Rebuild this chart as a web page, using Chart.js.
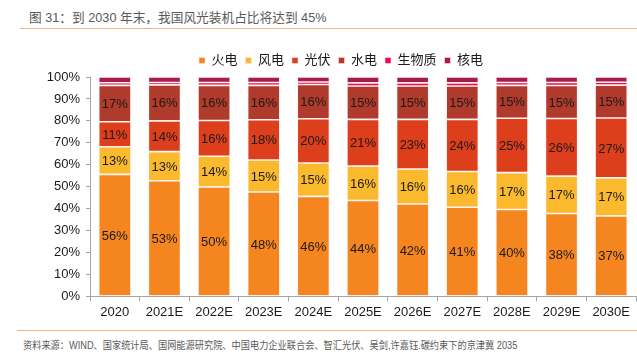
<!DOCTYPE html>
<html>
<head>
<meta charset="utf-8">
<script src="https://cdn.jsdelivr.net/npm/chart.js@4.4.1/dist/chart.umd.min.js"></script>
<style>
  html, body { margin: 0; padding: 0; background: #fff; }
  body { width: 637px; height: 364px; position: relative; overflow: hidden;
         font-family: "Liberation Sans", "Noto Sans CJK SC", sans-serif; }
  #title { position: absolute; left: 29px; top: 7px; font-size: 12.7px; color: #595959; white-space: nowrap; }
  #topline { position: absolute; left: 20px; right: 0; top: 28px; height: 1px; background: #F7B584; }
  #wrap { position: absolute; left: 0; top: 40px; width: 637px; height: 283px; }
  #botline { position: absolute; left: 17px; right: 0; top: 330px; height: 1px; background: #F7B584; }
  #source { position: absolute; left: 23px; top: 337px; font-size: 10px; color: #595959; white-space: nowrap;
            transform: scaleX(0.92); transform-origin: left center; }
</style>
</head>
<body>
<div id="title">图 31：到 2030 年末，我国风光装机占比将达到 45%</div>
<div id="topline"></div>
<div id="wrap"><canvas id="c" width="637" height="283"></canvas></div>
<div id="botline"></div>
<div id="source">资料来源：WIND、国家统计局、国网能源研究院、中国电力企业联合会、智汇光伏、吴剑,许嘉钰.碳约束下的京津冀 2035</div>

<script>
// ---- data (share of installed capacity, %) ----
const years = ['2020', '2021E', '2022E', '2023E', '2024E', '2025E', '2026E', '2027E', '2028E', '2029E', '2030E'];

const thermal = [55.6, 52.7, 49.9, 47.6, 45.6, 43.7, 42.1, 40.6, 39.6, 37.8, 36.7];
const wind    = [12.6, 13.3, 14.0, 14.6, 15.2, 15.7, 16.0, 16.3, 16.8, 17.0, 17.3];
const solar   = [11.4, 14.0, 16.3, 18.3, 20.2, 21.3, 22.6, 23.8, 24.8, 26.3, 27.3];
const hydro   = [16.6, 16.4, 16.0, 15.7, 15.6, 15.2, 15.2, 15.2, 15.0, 15.0, 15.0];
const biomass = [1.2, 1.1, 1.3, 1.3, 1.1, 1.4, 1.4, 1.4, 1.3, 1.4, 1.3];
const nuclear = [2.6, 2.5, 2.5, 2.5, 2.3, 2.7, 2.7, 2.7, 2.5, 2.5, 2.4];

const yTicks = [0, 10, 20, 30, 40, 50, 60, 70, 80, 90, 100];

const FONT = '"Liberation Sans", "Noto Sans CJK SC", sans-serif';

function ds(label, data, color) {
  return {
    label, data,
    backgroundColor: color,
    borderColor: 'rgba(255,230,230,0.7)',
    borderWidth: 0.8,
    borderSkipped: false,
    barPercentage: 0.65,
    categoryPercentage: 1.0
  };
}

// value labels inside the first four series
const segLabels = {
  id: 'segLabels',
  afterDatasetsDraw(chart) {
    const ctx = chart.ctx;
    ctx.save();
    ctx.font = '13px ' + FONT;
    ctx.fillStyle = '#1a1a1a';
    ctx.textAlign = 'center';
    ctx.textBaseline = 'middle';
    for (let d = 0; d < 4; d++) {
      const meta = chart.getDatasetMeta(d);
      meta.data.forEach((bar, i) => {
        const v = chart.data.datasets[d].data[i];
        ctx.fillText(Math.round(v) + '%', bar.x, (bar.y + bar.base) / 2 + 1);
      });
    }
    ctx.restore();
  }
};

// legend sits a little right of the canvas centre in the original
const legendShift = {
  id: 'legendShift',
  afterLayout(chart) {
    chart.legend.left += 23;
    chart.legend.right += 23;
  }
};

new Chart(document.getElementById('c'), {
  type: 'bar',
  data: {
    labels: years,
    datasets: [
      ds('火电', thermal, '#F5861F'),
      ds('风电', wind, '#FBBA2E'),
      ds('光伏', solar, '#DD3E1B'),
      ds('水电', hydro, '#B03A2C'),
      ds('生物质', biomass, '#EA0A50'),
      ds('核电', nuclear, '#A51E45')
    ]
  },
  plugins: [segLabels, legendShift],
  options: {
    responsive: false,
    animation: false,
    layout: { padding: { top: 6, right: 1, bottom: 0, left: 0 } },
    plugins: {
      tooltip: { enabled: false },
      legend: {
        position: 'top',
        labels: {
          boxWidth: 6,
          boxHeight: 6,
          padding: 8,
          color: '#1a1a1a',
          font: { size: 13, family: FONT }
        }
      }
    },
    scales: {
      x: {
        stacked: true,
        grid: { display: true, drawOnChartArea: false, offset: true, tickLength: 5, color: '#a6a6a6' },
        border: { color: '#a6a6a6' },
        ticks: { color: '#1a1a1a', font: { size: 13, family: FONT }, padding: 3, maxRotation: 0 }
      },
      y: {
        stacked: true,
        min: 0,
        max: 100,
        afterFit(scale) { scale.width = 90; },
        afterBuildTicks(scale) { scale.ticks = yTicks.map(v => ({ value: v })); },
        grid: { display: true, drawOnChartArea: false, tickLength: 4, color: '#a6a6a6' },
        border: { color: '#a6a6a6' },
        ticks: {
          color: '#1a1a1a',
          font: { size: 13, family: FONT },
          padding: 6,
          callback: v => v + '%'
        }
      }
    }
  }
});
</script>
</body>
</html>
